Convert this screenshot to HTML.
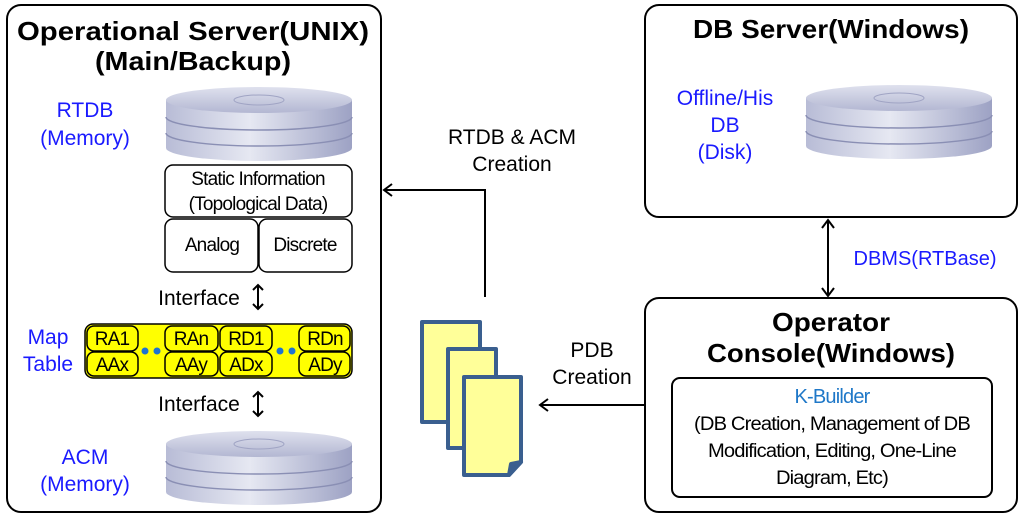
<!DOCTYPE html>
<html><head><meta charset="utf-8"><style>
html,body{margin:0;padding:0;background:#fff;}
svg{display:block;}
text{font-family:"Liberation Sans",sans-serif;}
.t{font-weight:bold;font-size:26px;fill:#000;text-anchor:middle;}
.b{font-size:21px;fill:#1a1aff;text-anchor:middle;}
.k{font-size:21px;fill:#000;text-anchor:middle;}
.n{font-size:19px;fill:#000;text-anchor:middle;letter-spacing:-0.8px;}
.y{font-size:19px;fill:#000;text-anchor:middle;letter-spacing:-0.8px;}
</style></head><body>
<svg width="1024" height="517" viewBox="0 0 1024 517" xmlns="http://www.w3.org/2000/svg">
<defs>
<linearGradient id="g" x1="0" x2="1" y1="0" y2="0">
<stop offset="0" stop-color="#b8bcd6"/><stop offset="0.45" stop-color="#e6e8f2"/><stop offset="1" stop-color="#9da2c4"/>
</linearGradient>
<linearGradient id="gt" x1="0" x2="0" y1="0" y2="1">
<stop offset="0" stop-color="#dfe1ee"/><stop offset="1" stop-color="#b3b7d2"/>
</linearGradient>
<g id="disk">
<path d="M0,13 L0,61 A93,13 0 0 0 186,61 L186,13 Z" fill="url(#g)"/>
<path d="M0,30 A93,13 0 0 0 186,30" fill="none" stroke="#8a8fb4" stroke-width="1.5"/>
<path d="M0,46 A93,13 0 0 0 186,46" fill="none" stroke="#8a8fb4" stroke-width="1.5"/>
<ellipse cx="93" cy="13" rx="93" ry="13" fill="url(#gt)"/>
<ellipse cx="93" cy="13" rx="25" ry="5" fill="none" stroke="#a0a4c4" stroke-width="1"/>
</g>
<g id="ud" fill="none" stroke="#000" stroke-width="2">
<path d="M0,-12 L0,12 M-5,-7 L0,-12 L5,-7 M-5,7 L0,12 L5,7"/>
</g>
<marker id="a" markerWidth="12" markerHeight="14" refX="10" refY="7" orient="auto" markerUnits="userSpaceOnUse">
<path d="M2,1 L10,7 L2,13" fill="none" stroke="#000" stroke-width="2"/>
</marker>
</defs>

<!-- left box -->
<rect x="7" y="5" width="374" height="507" rx="14" fill="none" stroke="#000" stroke-width="2"/>
<text class="t" x="193" y="40" textLength="352" lengthAdjust="spacingAndGlyphs">Operational Server(UNIX)</text>
<text class="t" x="193" y="70" textLength="196" lengthAdjust="spacingAndGlyphs">(Main/Backup)</text>
<text class="b" x="85" y="117">RTDB</text>
<text class="b" x="85" y="145">(Memory)</text>
<use href="#disk" x="166" y="87"/>
<rect x="165" y="165" width="187" height="52" rx="8" fill="#fff" stroke="#000" stroke-width="1.5"/>
<text class="n" x="258" y="185">Static Information</text>
<text class="n" x="258" y="210">(Topological Data)</text>
<rect x="165" y="219" width="93" height="53" rx="8" fill="#fff" stroke="#000" stroke-width="1.5"/>
<rect x="259" y="219" width="93" height="53" rx="8" fill="#fff" stroke="#000" stroke-width="1.5"/>
<text class="n" x="212" y="251">Analog</text>
<text class="n" x="305" y="251">Discrete</text>
<text class="k" x="199" y="305">Interface</text>
<use href="#ud" x="258" y="297"/>
<text class="b" x="48" y="344">Map</text>
<text class="b" x="48" y="371">Table</text>
<rect x="85" y="324" width="267" height="54" rx="8" fill="#ffff00" stroke="#000" stroke-width="1.5"/>
<g fill="#ffff00" stroke="#000" stroke-width="1.5">
<rect x="87" y="326" width="51" height="25" rx="7"/><rect x="87" y="352" width="51" height="24" rx="7"/>
<rect x="165" y="326" width="53" height="25" rx="7"/><rect x="165" y="352" width="53" height="24" rx="7"/>
<rect x="220" y="326" width="52" height="25" rx="7"/><rect x="220" y="352" width="52" height="24" rx="7"/>
<rect x="299" y="326" width="51" height="25" rx="7"/><rect x="299" y="352" width="51" height="24" rx="7"/>
</g>
<g fill="#1e73d2"><circle cx="145" cy="351" r="3.5"/><circle cx="157" cy="351" r="3.5"/><circle cx="280" cy="351" r="3.5"/><circle cx="292" cy="351" r="3.5"/></g>
<text class="y" x="112" y="345">RA1</text><text class="y" x="112" y="371">AAx</text>
<text class="y" x="191" y="345">RAn</text><text class="y" x="191" y="371">AAy</text>
<text class="y" x="246" y="345">RD1</text><text class="y" x="246" y="371">ADx</text>
<text class="y" x="325" y="345">RDn</text><text class="y" x="325" y="371">ADy</text>
<text class="k" x="199" y="411">Interface</text>
<use href="#ud" x="258" y="404"/>
<text class="b" x="85" y="464">ACM</text>
<text class="b" x="85" y="491">(Memory)</text>
<use href="#disk" x="166" y="431"/>

<!-- DB server -->
<rect x="645" y="5" width="372" height="212" rx="14" fill="none" stroke="#000" stroke-width="2"/>
<text class="t" x="831" y="38" textLength="276" lengthAdjust="spacingAndGlyphs">DB Server(Windows)</text>
<text class="b" x="725" y="105">Offline/His</text>
<text class="b" x="725" y="132">DB</text>
<text class="b" x="725" y="159">(Disk)</text>
<use href="#disk" x="806" y="85"/>

<line x1="828" y1="220" x2="828" y2="296" stroke="#000" stroke-width="2"/>
<path d="M822,228 L828,220 L834,228 M822,288 L828,296 L834,288" fill="none" stroke="#000" stroke-width="2"/>
<text class="b" x="925" y="265" style="font-size:20px">DBMS(RTBase)</text>

<!-- Operator console -->
<rect x="645" y="298" width="372" height="214" rx="14" fill="none" stroke="#000" stroke-width="2"/>
<text class="t" x="831" y="331" textLength="118" lengthAdjust="spacingAndGlyphs">Operator</text>
<text class="t" x="831" y="362" textLength="248" lengthAdjust="spacingAndGlyphs">Console(Windows)</text>
<rect x="672" y="378" width="320" height="119" rx="8" fill="none" stroke="#000" stroke-width="2"/>
<text class="n" x="832" y="403" style="fill:#1f78c8;font-size:20px">K-Builder</text>
<text class="n" x="832" y="430" textLength="276" lengthAdjust="spacingAndGlyphs">(DB Creation, Management of DB</text>
<text class="n" x="832" y="457" textLength="248" lengthAdjust="spacingAndGlyphs">Modification, Editing, One-Line</text>
<text class="n" x="832" y="484" textLength="112" lengthAdjust="spacingAndGlyphs">Diagram, Etc)</text>

<!-- RTDB & ACM arrow -->
<path d="M485,297 L485,190 L384,190" fill="none" stroke="#000" stroke-width="2" marker-end="url(#a)"/>
<text class="k" x="512" y="144">RTDB &amp; ACM</text>
<text class="k" x="512" y="171">Creation</text>

<!-- PDB arrow -->
<line x1="645" y1="405" x2="540" y2="405" stroke="#000" stroke-width="2" marker-end="url(#a)"/>
<text class="k" x="592" y="357">PDB</text>
<text class="k" x="592" y="384">Creation</text>

<!-- docs -->
<g fill="#ffff99" stroke="#3a5f8f" stroke-width="4" stroke-linejoin="round">
<rect x="422" y="322" width="58" height="100"/>
<rect x="448" y="349" width="48" height="99"/>
<path d="M464,377 L521,377 L521,462 L509,475 L464,475 Z"/>
<path d="M521,462 L511,464 L509,475 Z" fill="#3a5f8f"/>
</g>
</svg>
</body></html>
